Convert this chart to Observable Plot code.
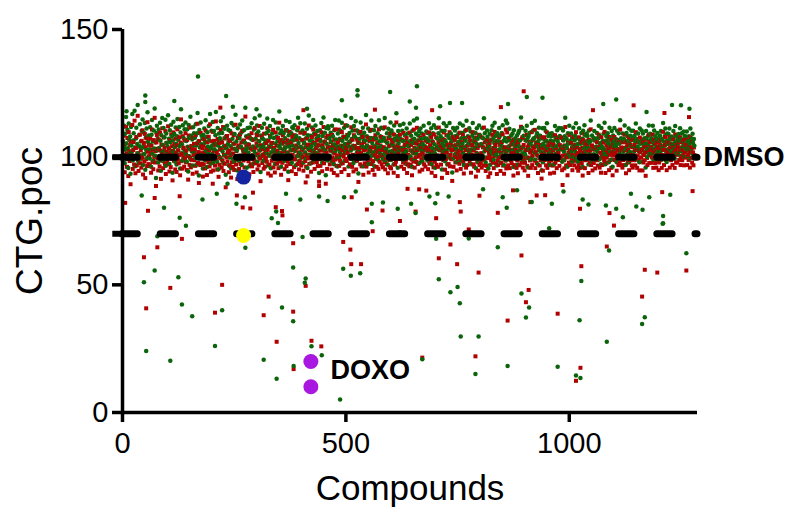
<!DOCTYPE html>
<html><head><meta charset="utf-8">
<script src="https://cdn.jsdelivr.net/npm/d3@7"></script>
<script src="https://cdn.jsdelivr.net/npm/@observablehq/plot@0.6"></script>
<style>html,body{margin:0;padding:0;background:#fff}#chart svg{display:block}</style>
</head><body><div id="chart"></div><script>
const xTicks = [0, 500, 1000];
const yTicks = [0, 50, 100, 150];
const thresholds = [100, 70];
const xMax = 1287;

// replicate 1 (red squares), value per compound 1..1280
const redBand = [
103.2,97.8,108.4,100.6,94.1,105.3,99.7,111.9,101.4,96.2,107.5,100.9,92.6,109.8,102.3,98.5,104.7,89.4,106.1,101.8,
99.3,112.6,95.4,102.8,105.9,97.1,114.3,100.2,93.7,103.6,107.9,96.8,101.5,116.2,98.9,94.6,104.1,100.7,108.8,97.6,
102.7,95.9,106.4,99.8,110.5,93.2,101.1,105.6,98.3,109.1,91.8,103.9,99.2,107.4,96.5,113.7,102.1,97.3,104.8,100.4,
96.7,107.2,101.6,93.9,104.5,110.8,98.1,102.9,95.3,106.7,100.1,115.4,97.9,102.4,88.7,105.8,108.6,99.5,103.3,94.8,
106.9,100.3,96.4,109.6,102.6,91.5,104.9,98.7,111.3,101.2,95.7,107.7,99.9,103.8,97.4,110.2,93.4,105.5,102.2,98.2,
100.8,112.1,97.2,103.4,94.4,106.6,101.9,96.1,108.9,99.4,104.3,90.9,102.5,109.7,98.6,105.1,100.5,95.2,107.3,101.7,
94.2,104.6,110.9,99.1,102.7,97.6,107.8,100.9,92.9,105.7,114.8,98.4,101.3,95.5,108.2,100.0,103.7,96.3,106.5,99.6,
109.4,98.0,102.6,95.0,106.8,100.4,91.2,108.5,103.5,97.0,99.8,111.6,96.0,104.4,99.0,102.9,93.5,107.6,100.8,105.2,
98.8,103.1,96.6,108.7,101.0,94.0,105.4,113.1,97.7,102.0,89.9,106.3,100.3,96.9,109.5,101.6,104.2,97.5,103.4,92.4,
104.6,97.2,107.1,101.8,95.6,110.4,99.3,103.7,93.0,105.9,100.6,98.1,108.0,102.8,96.4,112.9,100.1,94.3,106.2,101.0,
98.2,109.9,94.8,102.5,106.4,100.0,96.7,104.8,114.0,99.0,101.7,95.1,107.1,100.8,92.3,105.6,97.0,103.2,99.6,110.6,
102.9,96.0,105.7,98.6,111.8,94.6,100.9,107.3,97.4,103.6,88.2,104.5,99.9,108.3,98.3,101.9,106.7,94.1,102.6,96.6,
106.4,100.7,92.0,109.3,98.0,103.3,96.2,101.4,108.6,95.0,105.3,99.7,112.7,97.1,102.4,99.0,91.4,107.5,100.5,104.6,
95.4,103.8,108.9,97.3,100.6,105.8,93.8,110.3,99.5,102.7,98.7,106.5,96.0,101.6,115.9,99.3,104.2,92.7,100.2,107.7,
101.5,98.4,104.9,93.3,107.6,100.1,97.2,103.4,109.4,96.4,102.9,100.8,94.2,106.9,99.1,111.4,97.6,103.7,98.0,105.3,
108.6,95.2,100.9,106.3,96.8,102.5,112.2,99.4,90.6,104.7,100.3,107.8,97.7,103.1,100.6,95.5,109.2,101.3,96.3,102.8,
99.7,105.5,98.2,111.3,102.9,93.6,106.4,100.7,97.1,108.4,104.0,92.8,101.8,98.6,105.6,99.9,110.7,96.0,103.6,99.2,
94.0,101.6,109.7,99.0,104.5,97.4,102.6,107.5,95.7,100.9,113.5,98.3,105.8,100.1,93.1,106.7,101.5,97.8,108.5,102.3,
105.7,99.6,95.3,103.9,100.4,110.6,96.5,101.9,106.6,98.2,91.0,104.8,100.7,109.9,97.3,102.6,99.4,105.7,94.5,107.9,
100.9,107.7,102.8,96.1,108.6,99.1,103.4,93.4,104.6,100.3,106.8,97.3,111.6,101.9,95.2,103.8,98.4,109.6,100.6,96.7,
97.5,102.9,106.7,100.0,94.7,105.4,101.8,109.5,98.5,103.8,96.3,100.8,107.4,92.5,104.9,99.5,112.4,97.4,102.7,99.8,
104.8,94.3,100.7,107.9,102.4,97.9,110.8,99.3,105.6,95.4,101.6,108.8,100.2,103.5,98.1,106.5,96.5,100.9,104.7,90.4,
99.2,106.8,96.6,102.6,109.7,100.8,94.5,104.7,100.0,111.8,97.6,102.5,105.9,99.3,89.6,107.8,101.7,95.4,103.9,108.4,
107.6,100.5,103.7,97.2,99.3,105.9,102.5,95.1,108.7,99.9,104.6,98.4,93.8,106.8,101.5,110.9,99.1,103.3,96.6,100.7,
92.9,105.7,99.6,110.8,96.6,103.6,98.6,106.7,100.9,94.2,109.8,102.8,97.6,104.5,100.2,107.9,95.3,101.6,112.5,99.3,
103.6,98.5,108.7,101.8,104.7,93.0,100.6,105.9,97.2,102.6,99.4,111.7,103.5,96.2,106.8,100.9,94.4,108.6,99.8,104.4,
100.1,110.5,95.2,103.6,98.7,106.7,101.9,90.3,105.7,99.4,103.6,97.2,109.9,101.6,96.4,104.8,100.5,107.9,93.1,102.7,
105.9,97.6,102.9,100.3,112.8,96.3,104.6,100.8,98.0,107.6,94.0,102.7,99.8,106.6,99.1,103.9,110.7,97.3,101.9,95.0,
98.4,103.8,106.9,93.1,100.7,108.6,99.3,103.7,96.2,101.8,105.8,100.1,95.4,110.9,102.6,98.2,104.6,100.7,107.9,97.1,
102.8,100.2,96.0,107.6,103.9,98.1,111.7,95.2,102.6,99.6,97.3,105.8,101.9,93.7,107.5,100.6,98.9,104.5,96.1,109.4,
95.6,106.8,101.7,99.2,105.7,100.9,93.9,108.8,103.6,97.1,102.9,98.2,113.6,100.4,104.7,92.6,106.6,101.8,99.5,103.8,
108.8,99.4,103.5,96.3,100.2,106.7,102.7,98.0,109.5,95.4,100.8,104.9,97.5,102.8,99.0,107.6,93.8,105.7,100.9,97.2,
100.6,96.4,109.6,102.7,97.0,104.8,99.1,92.9,106.7,101.9,98.3,110.8,103.6,95.9,101.8,100.0,105.6,98.1,111.5,102.8,
97.3,104.9,100.2,106.6,94.4,100.9,107.6,103.5,99.1,105.7,95.1,101.6,99.8,108.7,97.2,103.8,100.7,96.3,102.9,106.5,
103.7,99.0,105.9,95.3,102.8,109.7,97.4,100.8,104.7,98.3,107.7,93.9,102.6,100.2,105.8,96.0,108.9,101.5,98.2,92.6,
99.9,107.8,97.0,103.7,100.7,96.2,105.8,111.6,99.4,102.9,100.3,104.6,97.1,106.7,91.9,101.8,103.6,98.9,109.7,100.8,
106.7,95.1,102.6,99.3,108.6,101.7,93.8,104.8,100.1,97.3,103.9,109.8,96.4,100.9,105.7,99.2,102.8,90.7,104.5,107.8,
96.2,102.9,100.8,106.8,97.9,104.7,100.0,94.8,107.9,101.6,99.3,105.7,102.5,97.4,109.6,100.7,95.4,103.8,99.9,105.9,
101.7,108.8,98.1,93.6,103.9,100.3,106.7,102.8,95.9,110.7,100.9,96.9,104.6,99.4,101.8,107.7,98.3,102.9,106.5,93.9,
99.4,100.9,104.8,109.8,97.2,102.6,96.3,103.8,100.1,105.9,92.4,101.7,107.7,98.0,103.6,94.7,100.8,108.8,96.9,104.7,
104.9,97.8,101.6,95.9,107.7,100.6,103.8,96.8,111.6,98.9,105.8,99.7,94.6,102.8,96.6,106.8,104.4,99.6,92.3,101.7,
100.8,105.6,93.7,102.9,98.8,106.9,99.6,108.7,97.8,103.6,95.7,101.9,109.9,100.5,104.7,97.6,102.7,93.4,105.8,98.8,
96.9,102.6,107.8,99.8,104.8,94.6,101.7,97.7,105.9,100.6,108.9,96.7,102.8,93.5,99.7,103.9,98.6,110.8,95.6,102.5,
109.7,99.5,96.8,103.9,100.7,107.5,95.7,102.9,98.8,104.9,97.6,101.8,105.7,99.6,92.8,106.9,101.6,96.9,103.8,100.6,
102.7,95.8,104.9,98.7,93.7,105.9,100.8,106.7,96.8,102.9,99.7,111.9,97.8,103.7,107.8,95.9,100.6,104.8,98.6,94.8,
97.8,106.7,99.6,102.8,108.7,96.6,103.9,92.7,104.7,99.8,105.9,98.7,101.8,95.8,102.6,109.8,96.9,100.7,106.8,103.6,
103.8,98.6,110.7,95.7,101.9,104.6,97.7,105.8,100.6,93.8,102.7,107.9,99.6,96.7,104.8,98.8,103.7,91.6,100.9,107.7,
94.7,101.8,103.6,107.8,98.9,100.7,106.6,96.8,102.7,109.7,95.8,99.9,104.7,101.9,97.8,105.6,93.6,102.9,98.7,104.6,
105.8,100.9,96.7,102.6,104.9,93.9,99.8,108.6,97.9,103.8,100.7,95.7,106.9,102.7,98.9,101.6,107.8,96.6,104.7,99.7,
99.8,103.9,107.7,94.9,100.6,106.8,102.9,98.8,95.6,104.6,111.8,100.8,96.8,103.6,99.9,92.9,105.8,101.7,97.9,108.7,
102.6,96.9,101.9,105.7,98.8,103.7,94.9,100.9,107.9,99.6,96.8,102.9,104.8,98.6,109.8,100.7,95.9,103.8,101.6,94.7,
96.8,107.8,99.7,102.9,95.8,101.7,105.9,97.7,103.6,92.8,106.7,99.9,101.8,108.9,95.7,104.9,98.8,100.6,105.7,102.8,
104.7,99.9,93.8,106.8,101.9,97.9,102.7,110.9,96.9,100.8,104.6,94.8,99.9,103.9,97.7,106.6,102.9,95.6,99.8,103.7,
100.7,105.9,98.8,96.7,103.8,108.8,99.7,95.9,104.8,101.7,93.9,107.8,100.8,96.9,102.6,99.9,105.7,98.7,109.9,97.8,
93.8,102.8,104.6,99.8,97.9,105.8,101.9,103.6,94.9,107.9,100.9,98.9,103.8,95.8,106.7,101.8,92.9,104.9,100.6,102.9,
107.9,98.9,101.7,103.7,100.9,94.7,106.8,99.8,102.8,96.9,105.9,101.9,97.9,110.8,99.7,103.8,96.8,102.7,95.9,105.8,
98.9,103.7,96.9,108.8,102.7,99.9,93.7,105.9,100.8,104.7,97.9,102.8,107.8,94.9,101.9,98.8,104.8,100.9,106.9,96.8,
103.9,95.9,106.7,100.8,98.8,104.9,102.8,96.8,109.8,99.9,103.6,95.8,100.7,105.9,98.9,102.7,94.8,107.7,101.9,99.8,
99.9,106.9,102.8,94.8,105.8,97.9,100.8,103.9,98.8,101.9,92.7,106.8,103.9,99.7,96.9,104.8,101.8,108.8,97.7,102.9,
105.9,100.8,97.8,103.8,99.9,102.9,108.9,95.8,101.8,106.9,99.8,97.7,104.9,102.8,95.9,100.9,105.8,98.9,103.9,94.9,
97.9,102.9,104.9,98.8,106.8,100.9,95.8,103.9,99.9,109.9,102.8,96.9,100.8,104.8,107.9,98.9,102.9,94.9,105.9,101.9,
102.9,105.8,99.9,107.9,95.9,103.8,101.9,98.8,104.9,100.8,96.9,103.9,106.9,99.9,101.8,95.8,108.9,102.8,97.9,104.8,
100.9,97.9,103.9,101.9,105.8,98.9,102.9,107.8,96.9,103.8,99.8,105.9,98.8,102.9,100.8,106.8,96.8,104.9,101.8,99.9,
104.9,99.9,106.9,96.9,102.9,100.9,98.9,104.8,101.9,95.9,107.8,102.9,99.8,103.9,97.9,105.9,101.9,96.8,103.8,100.8
];

// replicate 2 (green circles), value per compound 1..1280
const greenBand = [
106.3,100.8,112.4,104.1,97.6,109.2,102.9,115.7,105.4,99.3,110.6,103.5,95.8,113.2,106.7,101.4,108.1,93.5,111.8,104.6,
102.2,116.9,98.7,106.5,109.4,100.1,118.2,103.8,96.4,107.3,111.5,99.9,105.2,120.4,101.6,97.8,108.7,104.3,112.9,100.7,
106.1,99.4,110.3,103.7,114.8,96.9,104.5,109.6,101.2,113.4,95.1,107.6,102.8,111.2,99.7,117.6,105.9,100.2,108.5,103.1,
99.5,111.7,104.9,96.2,108.8,114.6,101.3,106.2,98.6,110.4,103.4,119.1,100.6,105.7,91.8,109.5,112.3,102.7,107.1,97.9,
110.8,103.6,99.2,113.5,106.4,94.7,108.6,101.7,115.3,104.8,98.4,111.4,102.5,107.8,100.3,114.7,96.6,109.3,105.6,101.1,
104.2,116.4,100.4,107.2,97.3,110.5,105.8,99.6,112.7,102.4,108.3,93.9,106.6,113.9,101.9,109.1,103.9,98.2,111.6,105.3,
97.1,108.2,114.9,102.6,106.7,100.7,111.8,104.4,95.6,109.7,118.8,101.5,105.1,98.7,112.5,103.3,107.4,99.4,110.9,102.1,
113.6,101.2,106.3,98.2,110.9,104.1,94.4,112.6,107.5,100.4,103.2,115.8,99.1,108.4,102.2,106.9,96.7,111.7,104.6,109.4,
102.1,107.6,99.8,112.9,104.7,97.1,109.4,117.3,101.0,106.2,92.8,110.6,103.8,100.0,113.6,105.1,108.4,100.8,107.2,95.6,
108.7,100.5,111.2,105.6,98.8,114.5,102.6,107.9,96.1,109.8,104.2,101.4,112.2,106.6,99.6,116.9,103.4,97.5,110.3,104.4,
101.3,113.8,97.9,105.5,110.2,103.1,99.5,108.6,117.7,102.3,105.4,98.1,111.4,104.6,95.3,109.3,100.2,107.4,103.6,114.1,
106.2,99.1,109.5,102.2,115.6,97.6,104.3,111.1,100.6,107.7,93.1,108.2,103.4,112.3,101.5,105.2,110.6,96.8,106.3,99.9,
110.2,104.3,95.7,113.4,101.3,107.2,99.4,105.3,112.4,98.2,109.1,103.3,116.6,100.4,106.1,102.6,94.8,111.3,104.1,108.3,
98.4,107.5,112.8,100.5,104.2,109.7,96.9,114.4,103.2,106.4,101.8,110.5,99.3,105.6,119.4,102.7,108.2,95.9,103.6,111.4,
105.1,101.7,108.6,96.4,111.6,103.4,100.3,107.1,113.3,99.5,106.7,104.2,97.5,110.8,102.4,115.2,100.8,107.3,101.2,109.1,
112.4,98.3,104.5,110.1,100.1,106.2,116.3,102.8,94.2,108.5,103.7,111.5,100.9,107.2,104.1,98.6,113.1,105.4,99.2,106.5,
103.3,109.4,101.5,115.1,106.5,96.7,110.3,104.2,100.6,112.2,107.8,95.7,105.2,101.9,109.3,103.6,114.6,99.4,107.5,102.8,
97.3,105.4,113.6,102.3,108.1,100.8,106.3,111.2,98.9,104.4,117.9,101.6,109.4,103.5,96.2,110.4,105.3,101.1,112.2,106.1,
109.5,102.9,98.6,107.4,103.8,114.3,99.7,105.5,110.3,101.5,94.3,108.6,104.2,113.8,100.7,106.2,102.8,109.4,97.8,111.7,
104.5,111.3,106.6,99.4,112.5,102.4,107.1,96.8,108.3,103.7,110.5,100.6,115.4,105.5,98.5,107.4,101.7,113.3,104.1,99.8,
100.7,106.6,110.4,103.4,97.9,109.2,105.5,113.2,101.8,107.3,99.6,104.3,111.1,95.8,108.6,103.2,116.3,100.9,106.5,103.4,
108.4,97.6,104.3,111.6,106.2,101.3,114.6,102.7,109.3,98.7,105.2,112.4,103.6,107.2,101.5,110.2,99.8,104.6,108.3,93.8,
102.6,110.5,99.9,106.2,113.4,104.4,97.8,108.3,103.5,115.5,100.9,106.1,109.6,102.7,92.9,111.4,105.3,98.7,107.5,112.1,
111.2,104.2,107.4,100.6,102.7,109.6,106.1,98.4,112.3,103.5,108.2,101.7,97.2,110.5,105.1,114.6,102.5,106.9,99.9,104.3,
96.3,109.3,103.2,114.4,99.9,107.2,101.9,110.3,104.5,97.5,113.5,106.4,100.9,108.1,103.8,111.5,98.6,105.2,116.2,102.7,
107.2,101.8,112.3,105.4,108.4,96.3,104.2,109.5,100.5,106.2,102.7,115.3,107.1,99.5,110.4,104.5,97.7,112.2,103.4,108.1,
103.7,114.1,98.5,107.2,101.9,110.3,105.5,93.6,109.4,102.8,107.2,100.5,113.6,105.2,99.7,108.4,104.1,111.5,96.4,106.3,
109.6,100.9,106.5,103.9,116.5,99.6,108.2,104.4,101.3,111.2,97.3,106.3,103.4,110.2,102.4,107.5,114.4,100.6,105.5,98.3,
101.7,107.4,110.5,96.4,104.3,112.2,102.6,107.3,99.5,105.4,109.4,103.7,98.7,114.5,106.2,101.5,108.2,104.3,111.5,100.4,
106.4,103.8,99.3,111.2,107.5,101.4,115.3,98.5,106.2,103.2,100.6,109.4,105.5,97.0,111.1,104.2,102.2,108.1,99.4,113.6,
98.9,110.4,105.3,102.5,109.3,104.5,97.2,112.4,107.2,100.4,106.5,101.5,117.2,104.0,108.3,95.9,110.2,105.4,102.8,107.4,
112.5,102.7,107.1,99.6,103.5,110.3,106.3,101.3,113.1,98.7,104.4,108.5,100.8,106.4,102.3,111.2,97.1,109.3,104.5,100.5,
104.2,99.7,113.2,106.3,100.3,108.4,102.4,96.2,110.3,105.5,101.6,114.4,107.2,99.2,105.4,103.3,109.2,101.4,115.1,106.4,
100.6,108.5,103.5,110.2,97.7,104.5,111.2,107.1,102.4,109.3,98.4,105.2,103.1,112.3,100.5,107.4,104.3,99.6,106.5,110.1,
107.3,102.3,109.5,98.6,106.4,113.3,100.7,104.4,108.3,101.6,111.3,97.2,106.2,103.5,109.4,99.3,112.5,105.1,101.5,95.9,
103.2,111.4,100.3,107.3,104.3,99.5,109.4,115.2,102.7,106.5,103.6,108.2,100.4,110.3,95.2,105.4,107.2,102.2,113.3,104.4,
110.3,98.4,106.2,102.6,112.2,105.3,97.1,108.4,103.4,100.6,107.5,113.4,99.7,104.5,109.3,102.5,106.4,94.0,108.1,111.4,
99.5,106.5,104.4,110.4,101.2,108.3,103.3,98.1,111.5,105.2,102.6,109.3,106.1,100.7,113.2,104.3,98.7,107.4,103.2,109.5,
105.3,112.4,101.4,96.9,107.5,103.6,110.3,106.4,99.2,114.3,104.5,100.2,108.2,102.7,105.4,111.3,101.6,106.5,110.1,97.2,
102.7,104.5,108.4,113.4,100.5,106.2,99.6,107.4,103.4,109.5,95.7,105.3,111.3,101.3,107.2,98.0,104.4,112.4,100.2,108.3,
108.5,101.1,105.2,99.2,111.3,104.2,107.4,100.1,115.2,102.2,109.4,103.3,97.9,106.4,99.9,110.4,108.0,103.2,95.6,105.3,
104.4,109.2,97.0,106.5,102.1,110.5,102.9,112.3,101.1,107.2,99.0,105.5,113.5,104.1,108.3,100.9,106.3,96.7,109.4,102.1,
100.2,106.2,111.4,103.1,108.4,97.9,105.3,101.0,109.5,104.2,112.5,100.0,106.4,96.8,103.0,107.5,101.9,114.4,98.9,106.1,
113.3,102.8,100.1,107.5,104.3,111.1,99.0,106.5,102.1,108.5,100.9,105.4,109.3,102.9,96.1,110.5,105.2,100.2,107.4,104.2,
106.3,99.1,108.5,102.0,97.0,109.5,104.4,110.3,100.1,106.5,103.0,115.5,101.1,107.3,111.4,99.2,104.2,108.4,101.9,98.1,
101.1,110.3,102.9,106.4,112.3,99.9,107.5,96.0,108.3,103.1,109.5,102.0,105.4,99.1,106.2,113.4,100.2,104.3,110.4,107.2,
107.4,101.9,114.3,99.0,105.5,108.2,101.0,109.4,104.2,97.1,106.3,111.5,103.2,100.0,108.4,102.1,107.3,94.9,104.5,111.3,
98.0,105.4,107.2,111.4,102.2,104.3,110.2,100.1,106.3,113.3,99.1,103.5,108.3,105.5,101.1,109.2,96.9,106.5,102.0,108.2,
109.4,104.5,100.0,106.2,108.5,97.2,103.4,112.2,101.2,107.4,104.3,99.0,110.5,106.3,102.2,105.2,111.4,99.9,108.3,103.3,
103.1,107.5,111.3,98.2,104.2,110.4,106.5,102.1,98.9,108.2,115.4,104.4,100.1,107.2,103.5,96.2,109.4,105.3,101.2,112.3,
106.2,100.2,105.5,109.3,102.1,107.3,98.2,104.5,111.5,103.2,100.1,106.5,108.4,102.0,113.3,104.3,99.2,107.4,105.2,98.0,
100.1,111.3,103.2,106.5,99.1,105.3,109.5,101.0,107.2,96.1,110.3,103.3,105.4,112.5,99.0,108.5,102.1,104.2,109.3,106.4,
108.3,103.5,97.1,110.4,105.5,101.2,106.3,114.4,100.2,104.3,108.5,98.1,103.2,107.5,101.1,110.2,106.5,99.0,103.1,107.3,
104.2,109.5,102.1,100.0,107.4,112.3,103.5,99.2,108.2,105.5,97.2,111.4,104.2,100.1,106.3,103.4,109.3,102.0,113.5,101.1,
97.2,106.4,108.2,103.1,101.0,109.4,105.5,107.2,98.1,111.5,104.4,102.2,107.3,99.1,110.2,105.3,96.2,108.5,104.1,106.2,
111.4,102.2,105.3,107.1,104.4,98.0,110.3,103.2,106.5,100.2,109.4,105.3,101.1,114.5,103.0,107.4,100.1,106.2,99.2,109.3,
102.1,107.2,100.2,112.4,106.3,103.1,97.0,109.5,104.2,108.3,101.2,106.4,111.2,98.1,105.5,102.0,108.4,104.3,110.3,100.1,
107.5,99.2,110.3,104.1,102.2,108.4,106.3,100.0,113.2,103.3,107.1,99.1,104.2,109.3,102.4,106.1,98.0,111.2,105.3,103.1,
103.3,110.4,106.1,98.2,109.3,101.0,104.5,107.4,102.1,105.3,96.0,110.2,107.5,103.2,100.1,108.3,105.4,112.4,101.2,106.3,
109.2,104.1,101.3,107.4,103.1,106.5,112.3,99.1,105.2,110.4,103.3,101.0,108.2,106.4,99.2,104.1,109.5,102.3,107.2,98.3,
101.2,106.3,108.5,102.1,110.2,104.4,99.1,107.2,103.5,113.4,106.1,100.2,104.5,108.3,111.2,102.4,106.2,98.1,109.3,105.2,
106.4,109.1,103.3,111.2,99.3,107.1,105.4,102.2,108.1,104.5,100.3,107.4,110.2,103.1,105.3,99.4,112.2,106.1,101.3,108.2,
104.1,101.4,107.2,105.5,109.1,102.3,106.4,111.3,100.5,107.1,103.2,109.4,102.2,106.3,104.5,110.1,100.1,108.3,105.1,103.4,
108.1,103.3,110.1,100.4,106.2,104.1,102.5,108.2,105.3,99.5,111.2,106.5,103.1,107.3,101.4,109.2,105.5,100.3,107.1,104.5
];

// individually read outlying compounds: [compound, value]
const redExtra = [
[48,60.8],[78,64.7],[133,68.0],[53,40.8],[107,48.8],[207,39.1],[223,50.0],[316,38.1],[327,45.4],[382,66.3],
[382,39.5],[345,27.7],[423,28.1],[445,25.9],[383,17.0],[410,49.6],[494,66.8],[510,63.8],[512,58.1],[534,58.1],
[560,71],[621,75],[775,71.7],[734,65.8],[708,60.4],[749,58.1],[797,54.8],[893,61.5],[909,48.0],[903,43.2],
[862,36.0],[974,38.7],[1027,57.3],[1084,65.0],[1100,73.2],[1169,55.9],[1197,54.8],[1262,55.6],[1163,45.4],[671,21.5],
[790,22.0],[1025,17.5],[1015,12.4],[6,82.1],[57,79.0],[72,84.0],[128,84.7],[202,89.6],[256,85.0],[292,86.1],
[269,80.3],[286,79.9],[343,80.4],[357,78.9],[358,77.2],[410,90.1],[440,88.7],[513,84.3],[547,79.5],[582,79.1],
[638,87.6],[664,87.4],[680,86.9],[656,78.7],[702,76.1],[755,82.4],[757,78.7],[799,84.9],[840,78.2],[874,87.0],
[913,82.4],[927,85.0],[946,85.1],[985,89.1],[1024,79.8],[1090,78.1],[1208,86.3],[1276,86.7],
[219,119.4],[405,118.4],[565,118.6],[898,125.8],[847,119.6],[1053,118.4],[1144,120.3],[1213,117.3],[1268,115.7],[693,118.4]
];
const greenExtra = [
[78,69.0],[142,73.1],[72,55.6],[48,51.0],[125,53.0],[133,42.3],[156,37.7],[53,24.1],[107,20.3],[207,26.0],
[223,40.0],[275,64.5],[348,74.2],[403,68.7],[382,56.8],[410,52.5],[408,50.8],[357,41.1],[382,35.7],[316,20.7],
[345,13.2],[423,25.9],[446,22.4],[383,18.2],[487,5.1],[494,56.3],[511,53.6],[532,54.5],[558,74.5],[621,70.6],
[702,68.0],[775,68.1],[840,64.7],[955,72.2],[1089,63.4],[1209,73.9],[1262,62.4],[708,52.2],[734,47.1],[750,49.2],
[755,42.8],[757,29.8],[797,29.8],[893,46.6],[910,41.1],[903,37.2],[1027,51.5],[1023,36.1],[1084,27.7],[1169,37.3],
[1163,34.7],[671,20.9],[790,15.1],[862,18.2],[974,17.9],[1015,14.5],[1025,13.5],
[43,85],[93,80.2],[128,76.3],[179,83.4],[211,85.7],[255,81.8],[274,84.3],[235,89.6],[334,76.1],[344,78.7],
[366,85.7],[398,83.4],[440,84.6],[459,82.8],[496,84.3],[522,86.6],[558,81.8],[583,82.2],[616,79.8],
[646,81.8],[656,78.1],[687,84.6],[700,82.0],[705,85.7],[730,84.6],[807,87.4],[851,84.3],[860,80.2],[883,87.0],
[916,82.4],[961,81.8],[987,86.6],[1030,83.4],[1043,81.5],[1082,81.1],[1105,79.8],[1120,76.5],[1138,85.7],[1150,80.7],
[1164,79.4],[1179,84.3],[1210,77.0],[1210,74.1],[1226,85.3],
[169,131.6],[51,124.2],[51,121.6],[116,122],[232,124],[526,126.2],[526,124.2],[599,125.5],[491,122.3],[9,118],
[247,119.7],[300,118.8],[413,119],[659,127.8],[643,121.8],[657,119.4],[711,119.9],[733,121.2],[760,121.2],[863,120.8],
[905,123.6],[940,123.3],[1076,120.8],[1105,122.6],[1173,117.7],[1230,120.4],[1250,120.3],[1269,119]
];

// control wells
const blueCtrl = [[271, 92.2]];
const yellowCtrl = [[271, 69.3]];
const doxoCtrl = [[421.6, 20.0], [421.6, 10.1]];
const annotations = [{text: "DMSO", x: 1300.5, y: 100}, {text: "DOXO", x: 465.6, y: 16.4}];

const RED = "#b00000", GREEN = "#0b640b";
// interleave the two replicates compound by compound so neither colour hides the other
const points = [];
redBand.forEach((y, i) => {
  points.push({x: i + 1, y, s: "square", c: RED});
  points.push({x: i + 1, y: greenBand[i], s: "circle", c: GREEN});
});
redExtra.forEach(([x, y]) => points.push({x, y, s: "square", c: RED}));
greenExtra.forEach(([x, y]) => points.push({x, y, s: "circle", c: GREEN}));
const pts = a => a.map(([x, y]) => ({x, y}));

const font = "'Liberation Sans', Arial, Helvetica, sans-serif";
const plot = Plot.plot({
  width: 786, height: 507,
  marginLeft: 122, marginRight: 89, marginTop: 29, marginBottom: 95,
  style: {fontFamily: font, background: "#fff", color: "#000"},
  x: {domain: [0, xMax]},
  y: {domain: [0, 150]},
  symbol: {type: "identity"},
  marks: [
    Plot.dot(points, {x: "x", y: "y", symbol: "s", fill: "c", r: 2.25, stroke: "none"}),
    Plot.ruleY(thresholds, {x1: 0, x2: xMax, stroke: "#000", strokeWidth: 7, strokeDasharray: "15.3,22.9", strokeLinecap: "round"}),
    Plot.ruleY(thresholds, {x1: -21.7, x2: 0, stroke: "#000", strokeWidth: 6}),
    Plot.dot(pts(blueCtrl), {x: "x", y: "y", r: 7.5, fill: "#1424a0", stroke: "none"}),
    Plot.dot(pts(yellowCtrl), {x: "x", y: "y", r: 7.5, fill: "#ffff00", stroke: "none"}),
    Plot.dot(pts(doxoCtrl), {x: "x", y: "y", r: 7.5, fill: "#a818e0", stroke: "none"}),
    Plot.ruleX([0], {y1: 0, y2: 150, stroke: "#000", strokeWidth: 3.5}),
    Plot.ruleY([0], {x1: 0, x2: xMax, stroke: "#000", strokeWidth: 3.5}),
    Plot.axisY(yTicks, {tickSize: 10, tickPadding: 4, fontSize: 29, strokeWidth: 3.5, tickFormat: d => String(d), label: null}),
    Plot.axisX(xTicks, {tickSize: 10, tickPadding: 10, fontSize: 29, strokeWidth: 3.5, tickFormat: d => String(d), label: null}),
    Plot.text(annotations, {x: "x", y: "y", text: "text", textAnchor: "start", lineAnchor: "middle", fontWeight: "bold", fontSize: 27, fill: "#000"}),
    Plot.text(["Compounds"], {frameAnchor: "bottom", dy: 75.8, text: d => d, fontSize: 35, textAnchor: "middle", lineAnchor: "middle", fill: "#000"}),
    Plot.text(["CTG.poc"], {frameAnchor: "left", dx: -92.5, rotate: -90, text: d => d, fontSize: 37, textAnchor: "middle", lineAnchor: "middle", fill: "#000"})
  ]
});
document.getElementById("chart").append(plot);
</script></body></html>
